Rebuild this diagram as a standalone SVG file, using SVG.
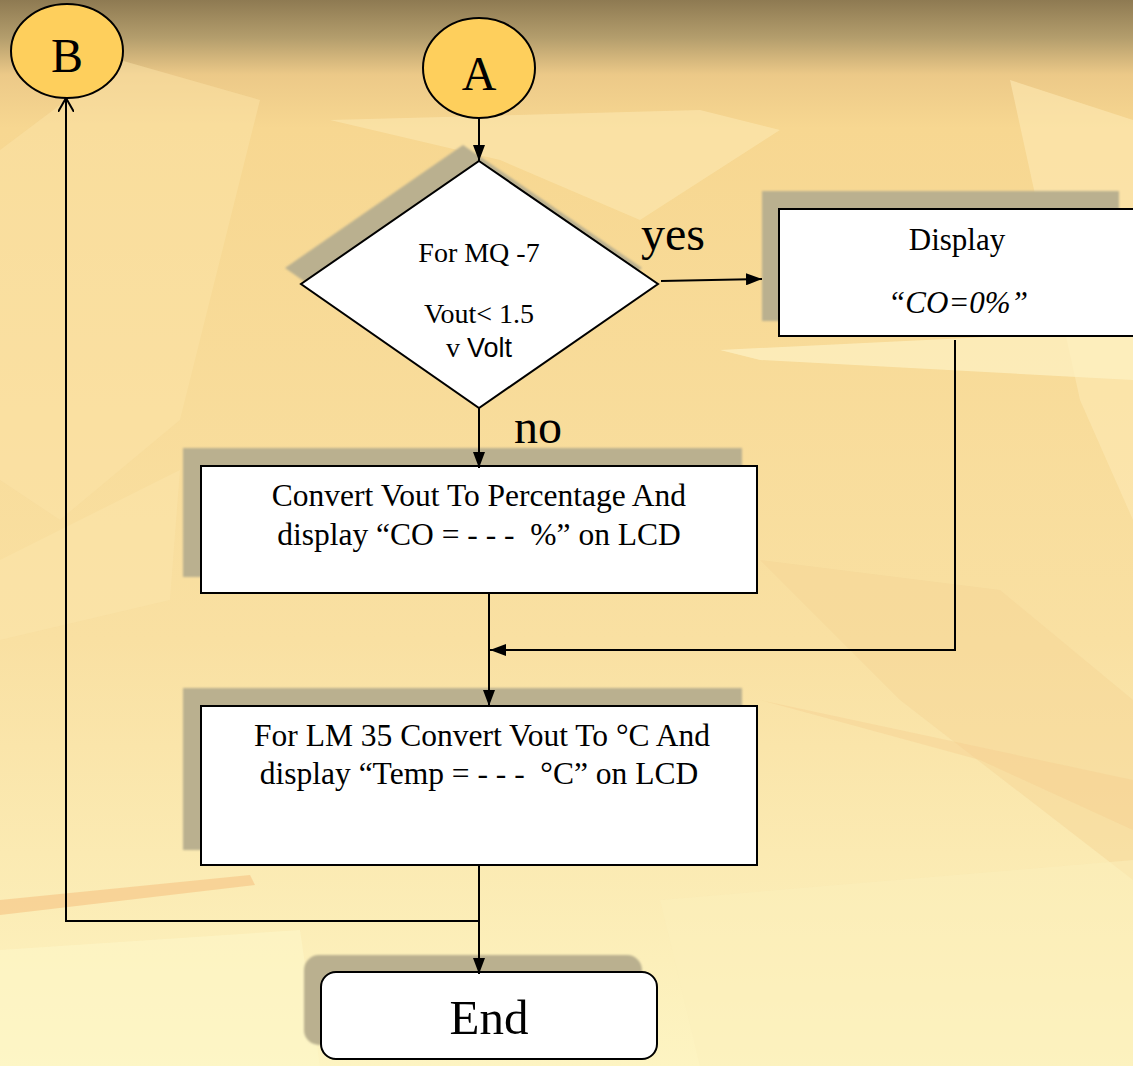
<svg xmlns="http://www.w3.org/2000/svg" width="1133" height="1066" viewBox="0 0 1133 1066">
<defs>
<linearGradient id="bg" x1="0" y1="0" x2="0" y2="1">
<stop offset="0" stop-color="#8e7a52"/>
<stop offset="0.035" stop-color="#b39d6c"/>
<stop offset="0.07" stop-color="#ecc988"/>
<stop offset="0.12" stop-color="#f7d791"/>
<stop offset="0.6" stop-color="#f9e0a2"/>
<stop offset="1" stop-color="#fdf4c2"/>
</linearGradient>
<filter id="blur" x="-10%" y="-10%" width="120%" height="120%"><feGaussianBlur stdDeviation="1"/></filter>
<marker id="ah" viewBox="0 0 16 12" refX="16" refY="6" markerWidth="16" markerHeight="12" markerUnits="userSpaceOnUse" orient="auto">
<path d="M0,0 L16,6 L0,12 Z" fill="#000"/>
</marker>
<marker id="open" viewBox="0 0 14 16" refX="14" refY="8" markerWidth="14" markerHeight="16" markerUnits="userSpaceOnUse" orient="auto">
<path d="M0,0 L14,8 L0,16" fill="none" stroke="#000" stroke-width="2"/>
</marker>
</defs>
<style>
.t{font-family:"Liberation Serif","Times New Roman",serif;fill:#000;text-anchor:middle}
.s{font-family:"Liberation Sans",Arial,sans-serif}
.box{fill:#fff;stroke:#000;stroke-width:2}
.sh{fill:#bab08f;filter:url(#blur)}
.ln{fill:none;stroke:#000;stroke-width:2}
</style>
<g id="background">
<rect width="1133" height="1066" fill="url(#bg)"/>
<polygon points="0,150 120,60 260,100 180,420 60,520 0,480" fill="#fbe4a8" opacity="0.5"/>
<polygon points="330,120 700,110 780,130 640,220 500,160" fill="#fce8b0" opacity="0.6"/>
<polygon points="1010,80 1133,120 1133,520 1080,400" fill="#fde9b4" opacity="0.6"/>
<polygon points="720,350 1133,330 1133,380 760,360" fill="#fef2c4" opacity="0.7"/>
<polygon points="0,560 180,470 170,600 0,640" fill="#fbe6ab" opacity="0.5"/>
<polygon points="760,560 1000,590 1133,700 1133,880 900,700" fill="#f6d596" opacity="0.5"/>
<polygon points="0,900 250,875 255,885 0,915" fill="#f7c98a" opacity="0.7"/>
<polygon points="760,700 1133,780 1133,830 980,760" fill="#f4cc8f" opacity="0.4"/>
<polygon points="0,950 300,930 320,1066 0,1066" fill="#fef6c8" opacity="0.6"/>
<polygon points="660,900 1133,860 1133,1066 700,1066" fill="#fcefbb" opacity="0.5"/>
</g>
<g id="nodeB">
<ellipse cx="67" cy="51" rx="56" ry="47" fill="#fecf5c" stroke="#000" stroke-width="2"/>
<text class="t" x="67" y="72" font-size="48">B</text>
</g>
<g id="nodeA">
<ellipse cx="479" cy="68" rx="56" ry="50" fill="#fecf5c" stroke="#000" stroke-width="2"/>
<text class="t" x="479" y="90" font-size="48">A</text>
</g>
<g id="decision">
<polygon class="sh" points="463,145 642,268 463,392 285,268"/>
<polygon class="box" points="479,161 658,284 479,408 301,284"/>
<text class="t" x="479" y="262" font-size="28">For MQ -7</text>
<text class="t" x="479" y="323" font-size="28">Vout&lt; 1.5</text>
<text class="t" x="479" y="357" font-size="28">v <tspan class="s" font-size="27">Volt</tspan></text>
</g>
<g id="labels">
<text class="t" x="673" y="250" font-size="48">yes</text>
<text class="t" x="538" y="443" font-size="48">no</text>
</g>
<g id="display">
<rect class="sh" x="762" y="191" width="357" height="130"/>
<rect class="box" x="779" y="209" width="360" height="127"/>
<text class="t" x="957" y="250" font-size="31">Display</text>
<text class="t" x="958" y="313" font-size="31" font-style="italic">“CO=0%”</text>
</g>
<g id="convert">
<rect class="sh" x="183" y="448" width="559" height="129"/>
<rect class="box" x="201" y="466" width="556" height="127"/>
<text class="t" x="479" y="506" font-size="31.5">Convert Vout To Percentage And</text>
<text class="t" x="479" y="545" font-size="31.5" xml:space="preserve">display “CO = - - -  %” on LCD</text>
</g>
<g id="lm35">
<rect class="sh" x="183" y="688" width="559" height="162"/>
<rect class="box" x="201" y="706" width="556" height="159"/>
<text class="t" x="482" y="746" font-size="31.5">For LM 35 Convert Vout To °C And</text>
<text class="t" x="479" y="784" font-size="31.5" xml:space="preserve">display “Temp = - - -  °C” on LCD</text>
</g>
<g id="end">
<rect class="sh" x="304" y="955" width="338" height="90" rx="15"/>
<rect class="box" x="321" y="972" width="336" height="87" rx="15"/>
<text class="t" x="489" y="1034" font-size="49">End</text>
</g>
<g id="connectors">
<line class="ln" x1="479" y1="118" x2="479" y2="161" marker-end="url(#ah)"/>
<line class="ln" x1="661" y1="281" x2="762" y2="279" marker-end="url(#ah)"/>
<line class="ln" x1="479" y1="408" x2="479" y2="468" marker-end="url(#ah)"/>
<polyline class="ln" points="955,340 955,650 490,650" marker-end="url(#ah)"/>
<line class="ln" x1="489" y1="593" x2="489" y2="706" marker-end="url(#ah)"/>
<line class="ln" x1="479" y1="865" x2="479" y2="974" marker-end="url(#ah)"/>
<polyline class="ln" points="479,921 66,921 66,98" marker-end="url(#open)"/>
</g>
</svg>
